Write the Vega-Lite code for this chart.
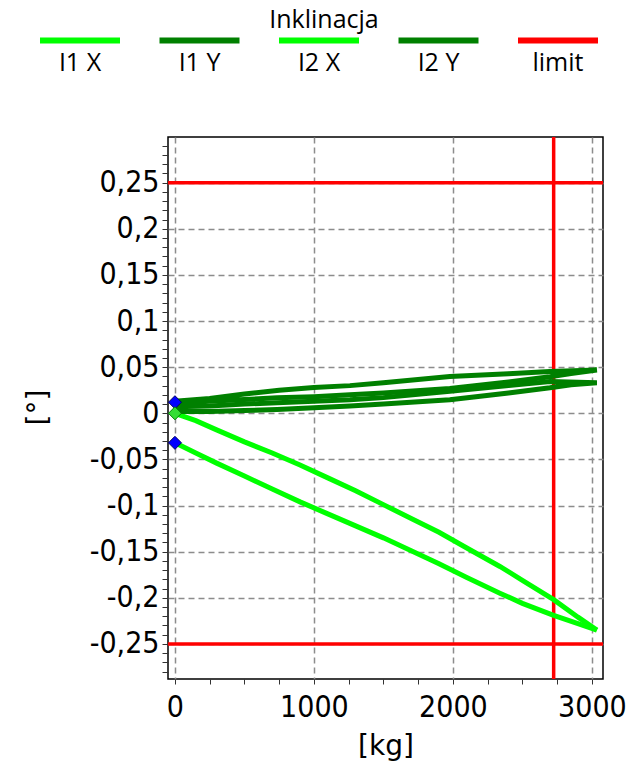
{
  "$schema": "https://vega.github.io/schema/vega-lite/v6.json",
  "width": 435,
  "height": 542,
  "autosize": {"type": "none"},
  "padding": {"left": 168, "top": 137, "right": 37, "bottom": 86},
  "background": "white",
  "config": {
    "view": {"stroke": "#000000", "strokeWidth": 1.5},
    "axis": {
      "domain": false,
      "labelFont": "DejaVu Sans Condensed",
      "labelFontSize": 30,
      "labelColor": "#000000",
      "titleFont": "DejaVu Sans",
      "titleFontSize": 28,
      "titleFontWeight": "normal",
      "titleColor": "#000000",
      "tickColor": "#333333",
      "tickWidth": 1,
      "gridColor": "#8c8c8c",
      "gridDash": [6, 4],
      "gridWidth": 1.5,
      "labelOverlap": false,
      "labelFlush": false
    }
  },
  "encoding": {
    "x": {
      "field": "kg",
      "type": "quantitative",
      "scale": {"domain": [-50, 3080], "nice": false, "zero": false},
      "axis": {
        "title": "[kg]",
        "values": [0, 250, 500, 750, 1000, 1250, 1500, 1750, 2000, 2250, 2500, 2750, 3000],
        "labelExpr": "datum.value % 1000 === 0 ? '' + datum.value : ''",
        "gridOpacity": {"condition": {"test": "datum.value % 1000 === 0", "value": 1}, "value": 0},
        "tickSize": 5,
        "labelPadding": 8,
        "titleY": 67,
        "titleBaseline": "middle"
      }
    },
    "y": {
      "field": "val",
      "type": "quantitative",
      "scale": {"domain": [-0.288, 0.2995], "nice": false, "zero": false},
      "axis": {
        "title": "[°]",
        "values": [-0.28, -0.27, -0.26, -0.25, -0.24, -0.23, -0.22, -0.21, -0.2, -0.19, -0.18, -0.17, -0.16, -0.15, -0.14, -0.13, -0.12, -0.11, -0.1, -0.09, -0.08, -0.07, -0.06, -0.05, -0.04, -0.03, -0.02, -0.01, 0, 0.01, 0.02, 0.03, 0.04, 0.05, 0.06, 0.07, 0.08, 0.09, 0.1, 0.11, 0.12, 0.13, 0.14, 0.15, 0.16, 0.17, 0.18, 0.19, 0.2, 0.21, 0.22, 0.23, 0.24, 0.25, 0.26, 0.27, 0.28, 0.29],
        "labelExpr": "abs(datum.value * 20 - round(datum.value * 20)) < 0.001 ? replace('' + datum.value, '.', ',') : ''",
        "gridOpacity": {"condition": {"test": "abs(datum.value * 20 - round(datum.value * 20)) < 0.001", "value": 1}, "value": 0},
        "tickSize": 6,
        "labelPadding": 3,
        "titleX": -130,
        "titleY": 270,
        "titleBaseline": "middle",
        "titleAlign": "center"
      }
    }
  },
  "layer": [
    {
      "data": {"values": [
        {"series": "limit", "kg": -50, "kg2": 3080, "val": 0.25},
        {"series": "limit", "kg": -50, "kg2": 3080, "val": -0.25}
      ]},
      "mark": {"type": "rule", "strokeWidth": 3.5},
      "encoding": {
        "x2": {"field": "kg2"},
        "color": {"field": "series", "type": "nominal"}
      }
    },
    {
      "data": {"values": [
        {"series": "limit", "kg": 2725, "val": -0.288, "val2": 0.2995}
      ]},
      "mark": {"type": "rule", "strokeWidth": 3.5},
      "encoding": {
        "y2": {"field": "val2"},
        "color": {"field": "series", "type": "nominal"}
      }
    },
    {
      "data": {"values": [
        {"series": "I1 X", "i": 0, "kg": 0, "val": 0.0},
        {"series": "I1 X", "i": 1, "kg": 150, "val": -0.008},
        {"series": "I1 X", "i": 2, "kg": 300, "val": -0.018},
        {"series": "I1 X", "i": 3, "kg": 500, "val": -0.031},
        {"series": "I1 X", "i": 4, "kg": 700, "val": -0.043},
        {"series": "I1 X", "i": 5, "kg": 900, "val": -0.056},
        {"series": "I1 X", "i": 6, "kg": 1100, "val": -0.07},
        {"series": "I1 X", "i": 7, "kg": 1300, "val": -0.084},
        {"series": "I1 X", "i": 8, "kg": 1500, "val": -0.099},
        {"series": "I1 X", "i": 9, "kg": 1700, "val": -0.114},
        {"series": "I1 X", "i": 10, "kg": 1900, "val": -0.129},
        {"series": "I1 X", "i": 11, "kg": 2100, "val": -0.146},
        {"series": "I1 X", "i": 12, "kg": 2338, "val": -0.166},
        {"series": "I1 X", "i": 13, "kg": 2500, "val": -0.181},
        {"series": "I1 X", "i": 14, "kg": 2725, "val": -0.202},
        {"series": "I1 X", "i": 15, "kg": 2900, "val": -0.221},
        {"series": "I1 X", "i": 16, "kg": 3036, "val": -0.235},

        {"series": "I2 X", "i": 0, "kg": 3036, "val": -0.235},
        {"series": "I2 X", "i": 1, "kg": 2900, "val": -0.228},
        {"series": "I2 X", "i": 2, "kg": 2725, "val": -0.219},
        {"series": "I2 X", "i": 3, "kg": 2500, "val": -0.206},
        {"series": "I2 X", "i": 4, "kg": 2338, "val": -0.195},
        {"series": "I2 X", "i": 5, "kg": 2100, "val": -0.178},
        {"series": "I2 X", "i": 6, "kg": 1900, "val": -0.163},
        {"series": "I2 X", "i": 7, "kg": 1700, "val": -0.149},
        {"series": "I2 X", "i": 8, "kg": 1500, "val": -0.135},
        {"series": "I2 X", "i": 9, "kg": 1300, "val": -0.122},
        {"series": "I2 X", "i": 10, "kg": 1100, "val": -0.109},
        {"series": "I2 X", "i": 11, "kg": 900, "val": -0.096},
        {"series": "I2 X", "i": 12, "kg": 700, "val": -0.082},
        {"series": "I2 X", "i": 13, "kg": 500, "val": -0.068},
        {"series": "I2 X", "i": 14, "kg": 300, "val": -0.054},
        {"series": "I2 X", "i": 15, "kg": 150, "val": -0.043},
        {"series": "I2 X", "i": 16, "kg": 0, "val": -0.032},

        {"series": "I1 Y", "i": 0, "kg": 0, "val": 0.013},
        {"series": "I1 Y", "i": 1, "kg": 250, "val": 0.016},
        {"series": "I1 Y", "i": 2, "kg": 500, "val": 0.021},
        {"series": "I1 Y", "i": 3, "kg": 750, "val": 0.025},
        {"series": "I1 Y", "i": 4, "kg": 1000, "val": 0.028},
        {"series": "I1 Y", "i": 5, "kg": 1259, "val": 0.03},
        {"series": "I1 Y", "i": 6, "kg": 1500, "val": 0.033},
        {"series": "I1 Y", "i": 7, "kg": 1978, "val": 0.04},
        {"series": "I1 Y", "i": 8, "kg": 2400, "val": 0.043},
        {"series": "I1 Y", "i": 9, "kg": 2698, "val": 0.0453},
        {"series": "I1 Y", "i": 10, "kg": 3036, "val": 0.047},
        {"series": "I1 Y", "i": 11, "kg": 2850, "val": 0.043},
        {"series": "I1 Y", "i": 12, "kg": 2698, "val": 0.0396},
        {"series": "I1 Y", "i": 13, "kg": 2400, "val": 0.034},
        {"series": "I1 Y", "i": 14, "kg": 1978, "val": 0.027},
        {"series": "I1 Y", "i": 15, "kg": 1500, "val": 0.022},
        {"series": "I1 Y", "i": 16, "kg": 1259, "val": 0.02},
        {"series": "I1 Y", "i": 17, "kg": 1000, "val": 0.018},
        {"series": "I1 Y", "i": 18, "kg": 735, "val": 0.0168},
        {"series": "I1 Y", "i": 19, "kg": 500, "val": 0.015},
        {"series": "I1 Y", "i": 20, "kg": 250, "val": 0.013},
        {"series": "I1 Y", "i": 21, "kg": 0, "val": 0.011},

        {"series": "I2 Y", "i": 0, "kg": 0, "val": 0.007},
        {"series": "I2 Y", "i": 1, "kg": 250, "val": 0.008},
        {"series": "I2 Y", "i": 2, "kg": 500, "val": 0.01},
        {"series": "I2 Y", "i": 3, "kg": 735, "val": 0.0114},
        {"series": "I2 Y", "i": 4, "kg": 1000, "val": 0.013},
        {"series": "I2 Y", "i": 5, "kg": 1259, "val": 0.0146},
        {"series": "I2 Y", "i": 6, "kg": 1500, "val": 0.017},
        {"series": "I2 Y", "i": 7, "kg": 1978, "val": 0.024},
        {"series": "I2 Y", "i": 8, "kg": 2400, "val": 0.03},
        {"series": "I2 Y", "i": 9, "kg": 2698, "val": 0.0345},
        {"series": "I2 Y", "i": 10, "kg": 3036, "val": 0.033},
        {"series": "I2 Y", "i": 11, "kg": 2850, "val": 0.031},
        {"series": "I2 Y", "i": 12, "kg": 2698, "val": 0.0276},
        {"series": "I2 Y", "i": 13, "kg": 2400, "val": 0.022},
        {"series": "I2 Y", "i": 14, "kg": 1978, "val": 0.0146},
        {"series": "I2 Y", "i": 15, "kg": 1500, "val": 0.01},
        {"series": "I2 Y", "i": 16, "kg": 1259, "val": 0.008},
        {"series": "I2 Y", "i": 17, "kg": 1000, "val": 0.006},
        {"series": "I2 Y", "i": 18, "kg": 735, "val": 0.004},
        {"series": "I2 Y", "i": 19, "kg": 500, "val": 0.003},
        {"series": "I2 Y", "i": 20, "kg": 250, "val": 0.002},
        {"series": "I2 Y", "i": 21, "kg": 0, "val": 0.002}
      ]},
      "mark": {"type": "line", "strokeWidth": 5},
      "encoding": {
        "order": {"field": "i", "type": "quantitative"},
        "color": {
          "field": "series",
          "type": "nominal",
          "scale": {"domain": ["I1 X", "I1 Y", "I2 X", "I2 Y", "limit"], "range": ["#00ff00", "#008000", "#00ff00", "#008000", "#ff0000"]},
          "legend": {
            "orient": "none",
            "legendX": -131,
            "legendY": -129,
            "direction": "horizontal",
            "columns": 5,
            "columnPadding": 15.5,
            "rowPadding": 0,
            "title": "Inklinacja",
            "titleFont": "Open Sans",
            "titleFontSize": 25,
            "titleFontWeight": "normal",
            "titleColor": "#000000",
            "titleAnchor": "middle",
            "titlePadding": -13,
            "symbolType": "M-1,-0.5625H1",
            "symbolSize": 6400,
            "symbolStrokeWidth": 6,
            "symbolOpacity": 1,
            "labelFont": "Open Sans",
            "labelFontSize": 25,
            "labelColor": "#000000",
            "labelAlign": "center",
            "labelBaseline": "middle",
            "labelOffset": -43,
            "labelLimit": 300
          }
        }
      }
    },
    {
      "data": {"values": [
        {"kg": 0, "val": 0.012},
        {"kg": 0, "val": -0.032}
      ]},
      "mark": {"type": "point", "shape": "diamond", "filled": true, "size": 170, "color": "#0000ff", "stroke": "#000066", "strokeWidth": 1, "opacity": 1}
    },
    {
      "data": {"values": [
        {"kg": 0, "val": 0.0}
      ]},
      "mark": {"type": "point", "shape": "diamond", "filled": true, "size": 170, "color": "#33dd33", "stroke": "#008000", "strokeWidth": 1, "opacity": 1}
    }
  ]
}
